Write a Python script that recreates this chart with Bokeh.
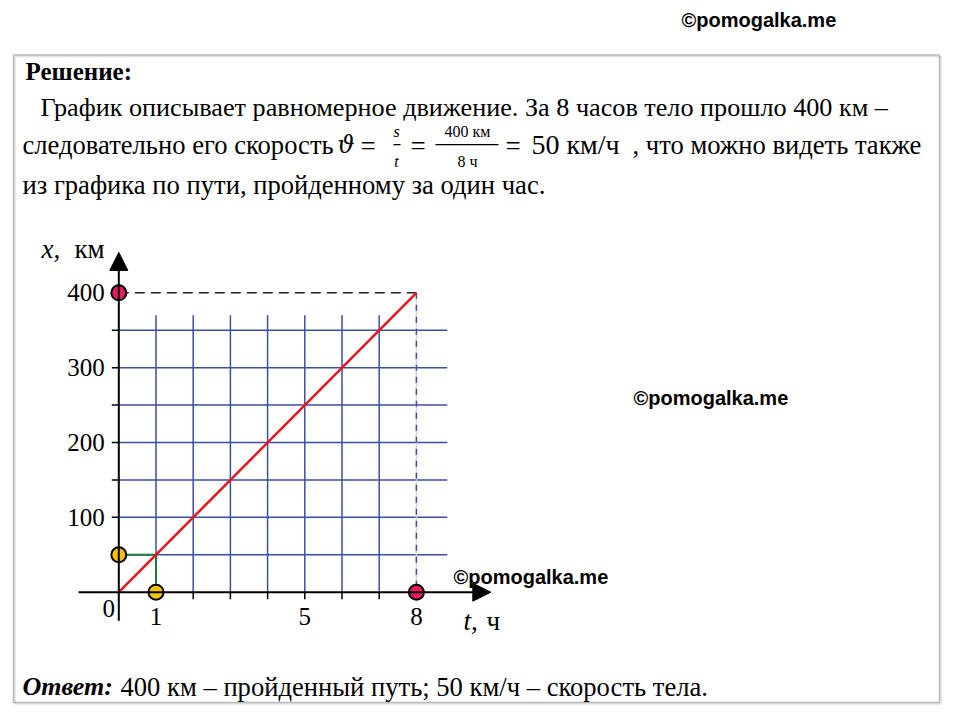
from bokeh.plotting import figure
from bokeh.models import Range1d, Label, Arrow, NormalHead, BoxAnnotation
from bokeh.embed import file_html
from bokeh.resources import INLINE
from bokeh.core.properties import value

# ---- data ----
line_t = [0, 8]
line_x = [0, 400]
grid_t = [1, 2, 3, 4, 5, 6, 7]
grid_x = [50, 100, 150, 200, 250, 300, 350]
y_tick_labels = [100, 200, 300, 400]
x_tick_labels = [1, 5, 8]
red_pts_t = [0, 8]
red_pts_x = [400, 0]
yel_pts_t = [0, 1]
yel_pts_x = [50, 0]
total_time = 8
total_dist = 400
one_hour = 1
dist_one_hour = 50

# ---- layout constants (page pixels) ----
W, H = 952, 710
OX, OY = 118.3, 591.7        # origin on page
PPH, PPK = 37.2, 0.7485      # px per hour, px per km

def sx(px):
    return px

def sy(py):
    return H - py

x0 = -(sx(OX)) / PPH
x1 = (W - sx(OX)) / PPH
y0 = -(sy(OY)) / PPK
y1 = (H - sy(OY)) / PPK

p = figure(width=W, height=H, output_backend="svg", toolbar_location=None,
           x_range=Range1d(x0, x1), y_range=Range1d(y0, y1),
           min_border=0, outline_line_color=None)
p.axis.visible = False
p.grid.visible = False
p.background_fill_color = "white"
p.border_fill_color = "white"

SERIF = "Liberation Serif"
SANS = "Liberation Sans"
BODY = 26.6

def lbl(text, px, py, size, style="normal", font=SERIF, align="left", color="black"):
    p.add_layout(Label(x=sx(px), y=sy(py), x_units="screen", y_units="screen", text=text,
                       text_font=font, text_font_size=f"{size}px", text_font_style=style,
                       text_align=align, text_baseline="middle", text_color=color))

def sbox(l, r, t, b, **kw):
    p.add_layout(BoxAnnotation(left=sx(l), right=sx(r), top=sy(t), bottom=sy(b),
                               left_units="screen", right_units="screen",
                               top_units="screen", bottom_units="screen", **kw))

# frame box
sbox(14.5, 940.5, 56, 703.5, fill_alpha=0, line_color="#a0a0a0", line_width=1.5)
sbox(13, 939, 54.5, 702, fill_alpha=0, line_color="#1a1a1a", line_width=1.5)

GRID_T_MAX = 8.83
GRID_X_MAX = 370
BLUE = "#3b4ea6"

# grid
p.segment(x0=grid_t, y0=[0] * len(grid_t), x1=grid_t, y1=[GRID_X_MAX] * len(grid_t),
          line_color=BLUE, line_width=1.5)
p.segment(x0=[0] * len(grid_x), y0=grid_x, x1=[GRID_T_MAX] * len(grid_x), y1=grid_x,
          line_color=BLUE, line_width=1.5)

# dashed guides
p.line([0, total_time], [total_dist, total_dist], line_color="#222222", line_width=1.5, line_dash="10 6")
p.line([total_time, total_time], [total_dist, 0], line_color="#d6d6d6", line_width=1.5)
p.line([total_time, total_time], [total_dist, 0], line_color=BLUE, line_width=1.5, line_dash="6 6")

# green helper lines
p.line([0, one_hour, one_hour], [dist_one_hour, dist_one_hour, 0], line_color="#1f7a3c", line_width=2)

# axes
p.add_layout(Arrow(x_start=-1.08, y_start=0, x_end=10.0, y_end=0, line_color="black", line_width=2,
                   end=NormalHead(size=18, fill_color="black", line_color="black")))
p.add_layout(Arrow(x_start=0, y_start=-38, x_end=0, y_end=454, line_color="black", line_width=2,
                   end=NormalHead(size=18, fill_color="black", line_color="black")))

# ticks
p.ray(x=[0] * len(grid_x), y=grid_x, length=7, length_units="screen", angle=3.14159265,
      line_color="black", line_width=1.5)
p.ray(x=grid_t, y=[0] * len(grid_t), length=7, length_units="screen", angle=-3.14159265 / 2,
      line_color="black", line_width=1.5)

# main graph
p.line(line_t, line_x, line_color="#e8141c", line_width=2.5)

# points
p.scatter(red_pts_t, red_pts_x, size=15, fill_color="#e5195e", line_color="black", line_width=2)
p.scatter(yel_pts_t, yel_pts_x, size=15, fill_color="#f7c300", line_color="black", line_width=2)

# tick labels
p.text(x=[0] * len(y_tick_labels), y=y_tick_labels, text=[str(v) for v in y_tick_labels],
       x_offset=-14, text_align="right", text_baseline="middle",
       text_font=value(SERIF), text_font_size="25px", text_color="black")
p.text(x=x_tick_labels, y=[0] * len(x_tick_labels), text=[str(v) for v in x_tick_labels],
       y_offset=24, text_align="center", text_baseline="middle",
       text_font=value(SERIF), text_font_size="25px", text_color="black")
p.text(x=[0], y=[0], text=["0"], x_offset=-10, y_offset=16, text_align="center",
       text_baseline="middle", text_font=value(SERIF), text_font_size="25px", text_color="black")

# axis titles
lbl("x,", 41, 248, 27, style="italic")
lbl("км", 74, 248, 27)
lbl("t,", 463, 620, 27, style="italic")
lbl("ч", 486, 620, 27)

# watermarks
lbl("©pomogalka.me", 681, 19, 20, style="bold", font=SANS)
lbl("©pomogalka.me", 633, 397, 20, style="bold", font=SANS)
lbl("©pomogalka.me", 453, 576, 20, style="bold", font=SANS)

# text
lbl("Решение:", 25, 71, 25, style="bold")
lbl("График описывает равномерное движение. За 8 часов тело прошло 400 км –", 40, 107, 26.2)
lbl("следовательно его скорость", 22, 144, BODY)
lbl("ϑ", 337, 144, 24, style="italic", font="DejaVu Serif")
lbl("=", 360, 145, 27, font=SERIF)
lbl("s", 396, 131, 16, style="italic", font=SERIF, align="center")
lbl("t", 396, 161, 16, style="italic", font=SERIF, align="center")
sbox(393, 400, 143.5, 144.7, fill_color="black", fill_alpha=1, line_alpha=0)
lbl("=", 410, 145, 27, font=SERIF)
lbl(f"{total_dist} км", 467, 131, 16, font=SERIF, align="center")
sbox(435, 498, 143.5, 144.7, fill_color="black", fill_alpha=1, line_alpha=0)
lbl(f"{total_time} ч", 467, 161, 16, font=SERIF, align="center")
lbl("=", 505, 145, 27, font=SERIF)
lbl("50 км/ч", 531, 144, 28, font=SERIF)
lbl(", что можно видеть также", 632, 144, BODY)
lbl("из графика по пути, пройденному за один час.", 22, 184, BODY)

lbl("Ответ:", 22, 686, 26, style="bold italic")
lbl("400 км – пройденный путь; 50 км/ч – скорость тела.", 120, 686, BODY)

open("out.html", "w").write(file_html(p, INLINE))
